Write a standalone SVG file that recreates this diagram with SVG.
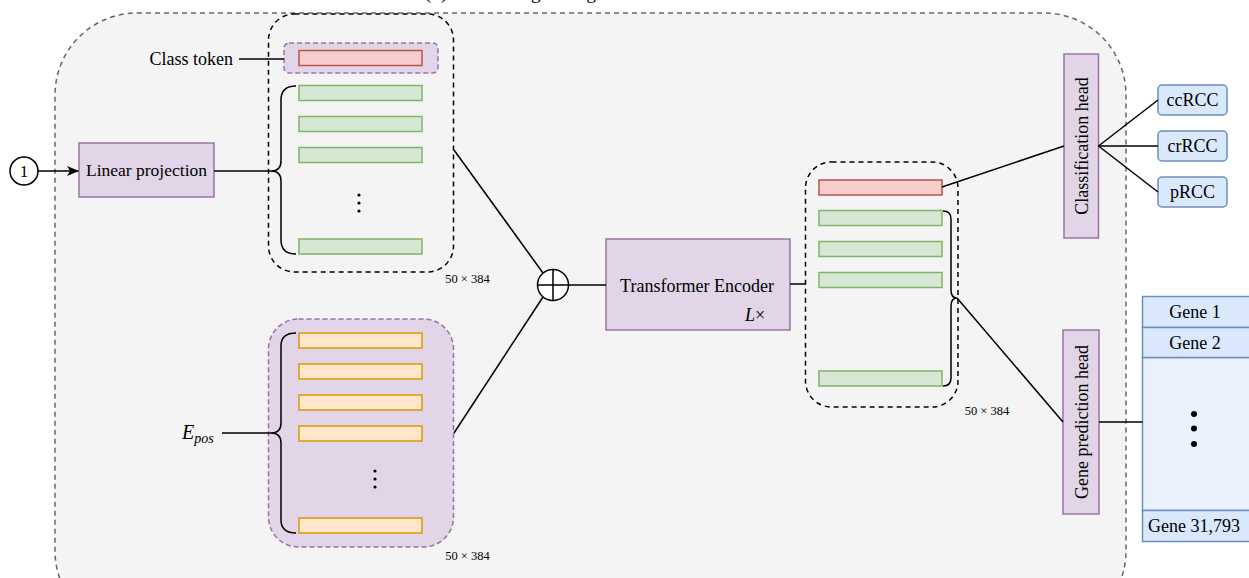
<svg xmlns="http://www.w3.org/2000/svg" width="1249" height="578" viewBox="0 0 1249 578">
<defs>
<style>
text{font-family:"Liberation Serif","Times New Roman",serif;fill:#000}
.t18{font-size:18px}
.sm{font-size:12.5px}
.purple{fill:#e1d5e7;stroke:#9673a6;stroke-width:1.5}
.blue{fill:#dae8fc;stroke:#6c8ebf;stroke-width:1.5}
.red{fill:#f8cecc;stroke:#b85450;stroke-width:1.5}
.green{fill:#d5e8d4;stroke:#82b366;stroke-width:1.5}
.orange{fill:#ffe6cc;stroke:#d79b00;stroke-width:1.5}
.dash{fill:none;stroke:#000;stroke-width:1.5;stroke-dasharray:5 4}
.ln{fill:none;stroke:#000;stroke-width:1.5}
</style>
<marker id="arr" markerWidth="12" markerHeight="10" refX="11" refY="5" orient="auto" markerUnits="userSpaceOnUse">
<path d="M0,0 L12,5 L0,10 L3,5 Z" fill="#000"/>
</marker>
</defs>
<rect width="1249" height="578" fill="#ffffff"/>
<text x="425" y="-1" style="font-size:19px">(b) Fine-tuning setting</text>
<g id="frame">
<rect x="55" y="13" width="1071" height="620" rx="82" ry="82" fill="#f4f4f4" stroke="#666" stroke-width="1.5" stroke-dasharray="5 4"/>
</g>
<g id="input">
<circle cx="24" cy="171" r="14" fill="#fff" stroke="#000" stroke-width="1.5"/>
<text x="24" y="177" text-anchor="middle" style="font-size:17px">1</text>
</g>
<g id="linear-projection">
<rect x="79" y="143" width="135" height="54" class="purple"/>
<text x="146.5" y="176" text-anchor="middle" style="font-size:17.5px">Linear projection</text>
</g>
<g id="class-token-label">
<text x="233" y="65" text-anchor="end" class="t18">Class token</text>
</g>
<g id="token-group">
<rect x="268.5" y="14" width="185" height="258" rx="26" class="dash"/>
<rect x="284" y="43" width="154" height="30" rx="5" fill="#e1d5e7" stroke="#9673a6" stroke-width="1.5" stroke-dasharray="5 3"/>
<rect x="299" y="50.5" width="123" height="15" class="red"/>
<rect x="299" y="85.5" width="123" height="15" class="green"/>
<rect x="299" y="116.5" width="123" height="15" class="green"/>
<rect x="299" y="147.5" width="123" height="15" class="green"/>
<rect x="299" y="239" width="123" height="15" class="green"/>
<circle cx="359" cy="195" r="1.6"/>
<circle cx="359" cy="203" r="1.6"/>
<circle cx="359" cy="211" r="1.6"/>
<path d="M296 86 Q281 86 281 100 L281 161 Q281 171 271 171 Q281 171 281 181 L281 240 Q281 254 296 254" class="ln"/>
<text x="467.5" y="283" text-anchor="middle" class="sm">50 × 384</text>
</g>
<g id="epos-label">
<text x="182" y="439" style="font-size:20px;font-style:italic">E<tspan dy="4" style="font-size:14px">pos</tspan></text>
</g>
<g id="pos-group">
<rect x="268.5" y="319" width="185" height="228" rx="30" fill="#e1d5e7" stroke="#9673a6" stroke-width="1.5" stroke-dasharray="5 3"/>
<rect x="299" y="333" width="123" height="15" class="orange"/>
<rect x="299" y="364" width="123" height="15" class="orange"/>
<rect x="299" y="395" width="123" height="15" class="orange"/>
<rect x="299" y="426" width="123" height="15" class="orange"/>
<rect x="299" y="518" width="123" height="15" class="orange"/>
<circle cx="375" cy="471" r="1.6"/>
<circle cx="375" cy="479" r="1.6"/>
<circle cx="375" cy="487" r="1.6"/>
<path d="M296 333 Q281 333 281 346 L281 423 Q281 433 271 433 Q281 433 281 443 L281 520 Q281 533 296 533" class="ln"/>
<text x="467.5" y="560" text-anchor="middle" class="sm">50 × 384</text>
</g>
<g id="oplus">
<circle cx="553" cy="285" r="15.5" fill="#fff" stroke="#000" stroke-width="1.5"/>
<path d="M537.5 285 H568.5 M553 269.5 V300.5" class="ln"/>
</g>
<g id="transformer">
<rect x="606" y="239" width="184" height="91" class="purple"/>
<text x="697" y="292" text-anchor="middle" class="t18">Transformer Encoder</text>
<text x="745" y="321" style="font-size:18px"><tspan style="font-style:italic">L</tspan>×</text>
</g>
<g id="output-group">
<rect x="805.5" y="162" width="152.5" height="245" rx="26" class="dash"/>
<rect x="819" y="180" width="123" height="15" class="red"/>
<rect x="819" y="210.5" width="123" height="15" class="green"/>
<rect x="819" y="241.5" width="123" height="15" class="green"/>
<rect x="819" y="272.5" width="123" height="15" class="green"/>
<rect x="819" y="371" width="123" height="15" class="green"/>
<path d="M943 211 Q951 211 951 219 L951 290 Q951 298 957 298 Q951 298 951 306 L951 378 Q951 386 943 386" class="ln"/>
<text x="987" y="415" text-anchor="middle" class="sm">50 × 384</text>
</g>
<g id="classification-head">
<rect x="1064" y="54" width="34.5" height="184" class="purple"/>
<text transform="translate(1087.5 146) rotate(-90)" text-anchor="middle" class="t18">Classification head</text>
</g>
<g id="ccRCC">
<rect x="1158" y="85" width="69" height="30" rx="4" class="blue"/>
<text x="1192.5" y="106" text-anchor="middle" class="t18">ccRCC</text>
</g>
<g id="crRCC">
<rect x="1158" y="131" width="69" height="30" rx="4" class="blue"/>
<text x="1192.5" y="152" text-anchor="middle" class="t18">crRCC</text>
</g>
<g id="pRCC">
<rect x="1158" y="177" width="69" height="30" rx="4" class="blue"/>
<text x="1192.5" y="198" text-anchor="middle" class="t18">pRCC</text>
</g>
<g id="gene-head">
<rect x="1063" y="330" width="36" height="184" class="purple"/>
<text transform="translate(1087.5 422) rotate(-90)" text-anchor="middle" class="t18">Gene prediction head</text>
</g>
<g id="gene-list">
<rect x="1142.5" y="357.5" width="110" height="153" fill="#eaf1fc" stroke="#6c8ebf" stroke-width="1.5"/>
<rect x="1142.5" y="296.5" width="110" height="31" class="blue"/>
<rect x="1142.5" y="327.5" width="110" height="30" class="blue"/>
<rect x="1142.5" y="510.5" width="110" height="31" class="blue"/>
<text x="1195" y="318" text-anchor="middle" class="t18">Gene 1</text>
<text x="1195" y="349" text-anchor="middle" class="t18">Gene 2</text>
<text x="1148" y="532" class="t18">Gene 31,793</text>
<circle cx="1194" cy="414" r="3"/>
<circle cx="1194" cy="428.5" r="3"/>
<circle cx="1194" cy="444" r="3"/>
</g>
<g id="connectors">
<line x1="38" y1="171" x2="78" y2="171" class="ln" marker-end="url(#arr)"/>
<line x1="214" y1="171" x2="271" y2="171" class="ln"/>
<line x1="239" y1="59" x2="284" y2="59" class="ln"/>
<line x1="222" y1="433" x2="271" y2="433" class="ln"/>
<line x1="454" y1="150" x2="543" y2="273" class="ln"/>
<line x1="454" y1="433" x2="543" y2="297" class="ln"/>
<line x1="568.5" y1="285" x2="606" y2="285" class="ln"/>
<polyline points="790,284 806,284" class="ln"/>
<line x1="942" y1="187" x2="1064" y2="146" class="ln"/>
<line x1="957" y1="298" x2="1063" y2="422" class="ln"/>
<line x1="1098.5" y1="146" x2="1158" y2="100" class="ln"/>
<line x1="1098.5" y1="146" x2="1158" y2="146" class="ln"/>
<line x1="1098.5" y1="146" x2="1158" y2="192" class="ln"/>
<line x1="1099" y1="422" x2="1142.5" y2="422" class="ln"/>
</g>
</svg>
